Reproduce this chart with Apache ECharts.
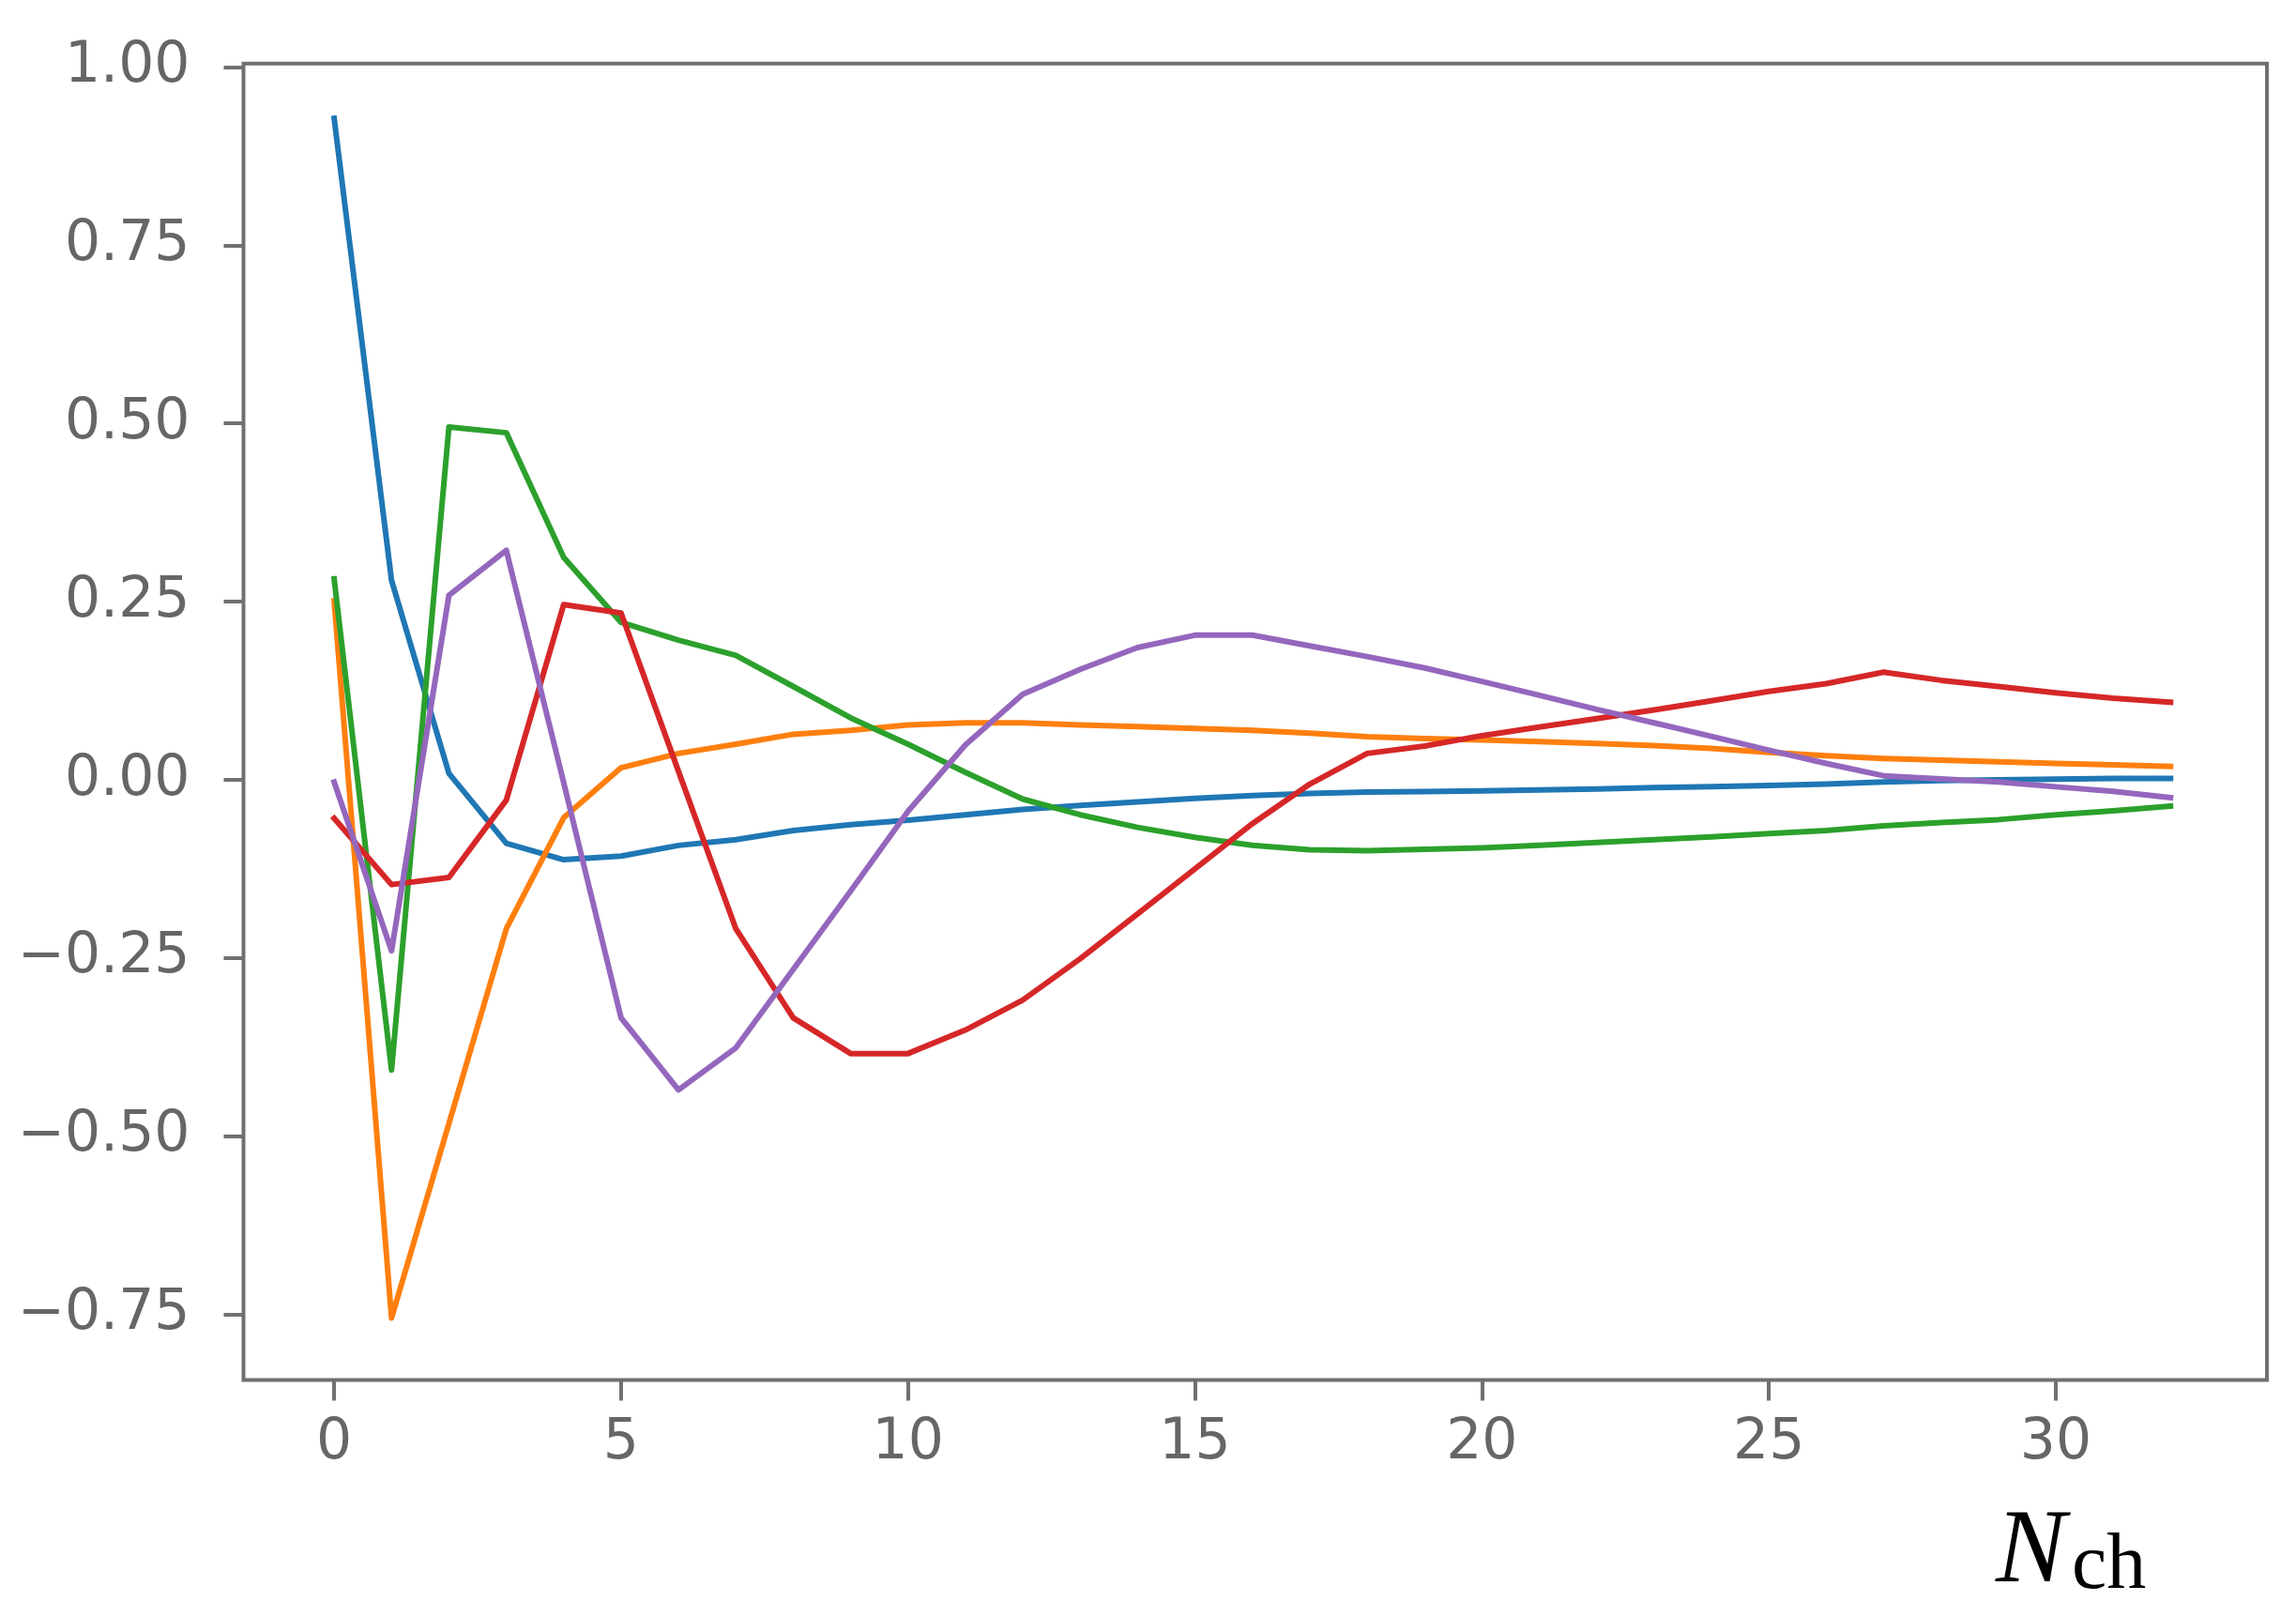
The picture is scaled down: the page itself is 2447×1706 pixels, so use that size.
<!DOCTYPE html>
<html>
<head>
<meta charset="utf-8">
<script src="https://cdn.jsdelivr.net/npm/echarts@6/dist/echarts.min.js"></script>
<style>
  html, body { margin: 0; padding: 0; background: #fff; }
  #chart { width: 2447px; height: 1706px; }
</style>
</head>
<body>
<div id="chart"></div>
<script>
// x positions (N_ch)
const nch = [0, 1, 2, 3, 4, 5, 6, 7, 8, 9, 10, 11, 12, 13, 14, 15, 16,
  17, 18, 19, 20, 21, 22, 23, 24, 25, 26, 27, 28, 29, 30, 31, 32]

// curves, one value per N_ch
const blue = [0.928, 0.28, 0.009, -0.089, -0.112, -0.107, -0.092, -0.084, -0.071, -0.063,
  -0.0565, -0.049, -0.0414, -0.036, -0.031, -0.026, -0.022, -0.019, -0.017, -0.0165,
  -0.0154, -0.014, -0.0127, -0.011, -0.0097, -0.0079, -0.006, -0.003, -0.001, 0.0,
  0.001, 0.002, 0.002]
const orange = [0.251, -0.755, -0.482, -0.209, -0.053, 0.017, 0.037, 0.05, 0.064, 0.0696,
  0.077, 0.08, 0.08, 0.077, 0.0746, 0.072, 0.0696, 0.0656, 0.0605, 0.058,
  0.0558, 0.0536, 0.051, 0.048, 0.044, 0.0386, 0.034, 0.03, 0.0277, 0.0255,
  0.023, 0.021, 0.019]
const green = [0.282, -0.407, 0.495, 0.487, 0.312, 0.221, 0.196, 0.1747, 0.131, 0.087,
  0.05, 0.0106, -0.027, -0.049, -0.0666, -0.0807, -0.0918, -0.098, -0.0993, -0.0975,
  -0.0953, -0.0918, -0.0878, -0.0839, -0.08, -0.0755, -0.071, -0.0646, -0.06, -0.0558,
  -0.049, -0.0435, -0.037]
const red = [-0.054, -0.147, -0.137, -0.0285, 0.246, 0.234, 0.012, -0.209, -0.334, -0.384,
  -0.384, -0.351, -0.309, -0.251, -0.188, -0.125, -0.0615, -0.006, 0.037, 0.0474,
  0.062, 0.074, 0.086, 0.098, 0.111, 0.124, 0.135, 0.151, 0.1397, 0.131,
  0.122, 0.1146, 0.109]
const purple = [-0.003, -0.24, 0.259, 0.322, -0.004, -0.334, -0.435, -0.376, -0.266, -0.156,
  -0.044, 0.049, 0.12, 0.155, 0.1856, 0.203, 0.203, 0.188, 0.173, 0.157,
  0.138, 0.1186, 0.099, 0.08, 0.061, 0.0417, 0.023, 0.0057, 0.0013, -0.003,
  -0.0097, -0.016, -0.025]

// tick labels
const xTicks = [0, 5, 10, 15, 20, 25, 30]
const yTicks = [-0.75, -0.5, -0.25, 0, 0.25, 0.5, 0.75, 1.0]

const curves = [
  { values: blue, color: '#1f77b4' },
  { values: orange, color: '#ff7f0e' },
  { values: green, color: '#2ca02c' },
  { values: red, color: '#d62728' },
  { values: purple, color: '#9467bd' }
]

const spineColor = '#707070'
const textColor = '#666666'

const chart = echarts.init(document.getElementById('chart'))

const option = {
  animation: false,
  backgroundColor: '#ffffff',
  grid: {
    left: 259.5,
    top: 67.7,
    right: 31,
    bottom: 235.5,
    show: true,
    borderColor: spineColor,
    borderWidth: 4,
    backgroundColor: '#ffffff'
  },
  xAxis: {
    type: 'value',
    min: -1.58,
    max: 33.68,
    axisLine: { show: false, onZero: false },
    splitLine: { show: false },
    axisTick: {
      show: true,
      length: 22,
      customValues: xTicks,
      lineStyle: { color: spineColor, width: 4 }
    },
    axisLabel: {
      customValues: xTicks,
      margin: 38,
      color: textColor,
      fontFamily: 'DejaVu Sans',
      fontSize: 60
    }
  },
  yAxis: {
    type: 'value',
    min: -0.842,
    max: 1.005,
    axisLine: { show: false, onZero: false },
    splitLine: { show: false },
    axisTick: {
      show: true,
      length: 21,
      customValues: yTicks,
      lineStyle: { color: spineColor, width: 4 }
    },
    axisLabel: {
      customValues: yTicks,
      margin: 57,
      color: textColor,
      fontFamily: 'DejaVu Sans',
      fontSize: 60,
      formatter: v => v.toFixed(2).replace('-', '\u2212')
    }
  },
  series: curves.map(c => ({
    type: 'line',
    data: nch.map((n, i) => [n, c.values[i]]),
    showSymbol: false,
    symbol: 'none',
    smooth: false,
    lineStyle: { color: c.color, width: 6, cap: 'square', join: 'round' }
  })),
  graphic: [
    {
      type: 'text',
      left: 2127,
      top: 1600,
      style: {
        text: 'N',
        fill: '#000',
        font: 'italic 112px "Liberation Serif", serif'
      }
    },
    {
      type: 'text',
      left: 2208,
      top: 1628,
      style: {
        text: 'ch',
        fill: '#000',
        font: '84px "Liberation Serif", serif'
      }
    }
  ]
}

chart.setOption(option)
</script>
</body>
</html>
